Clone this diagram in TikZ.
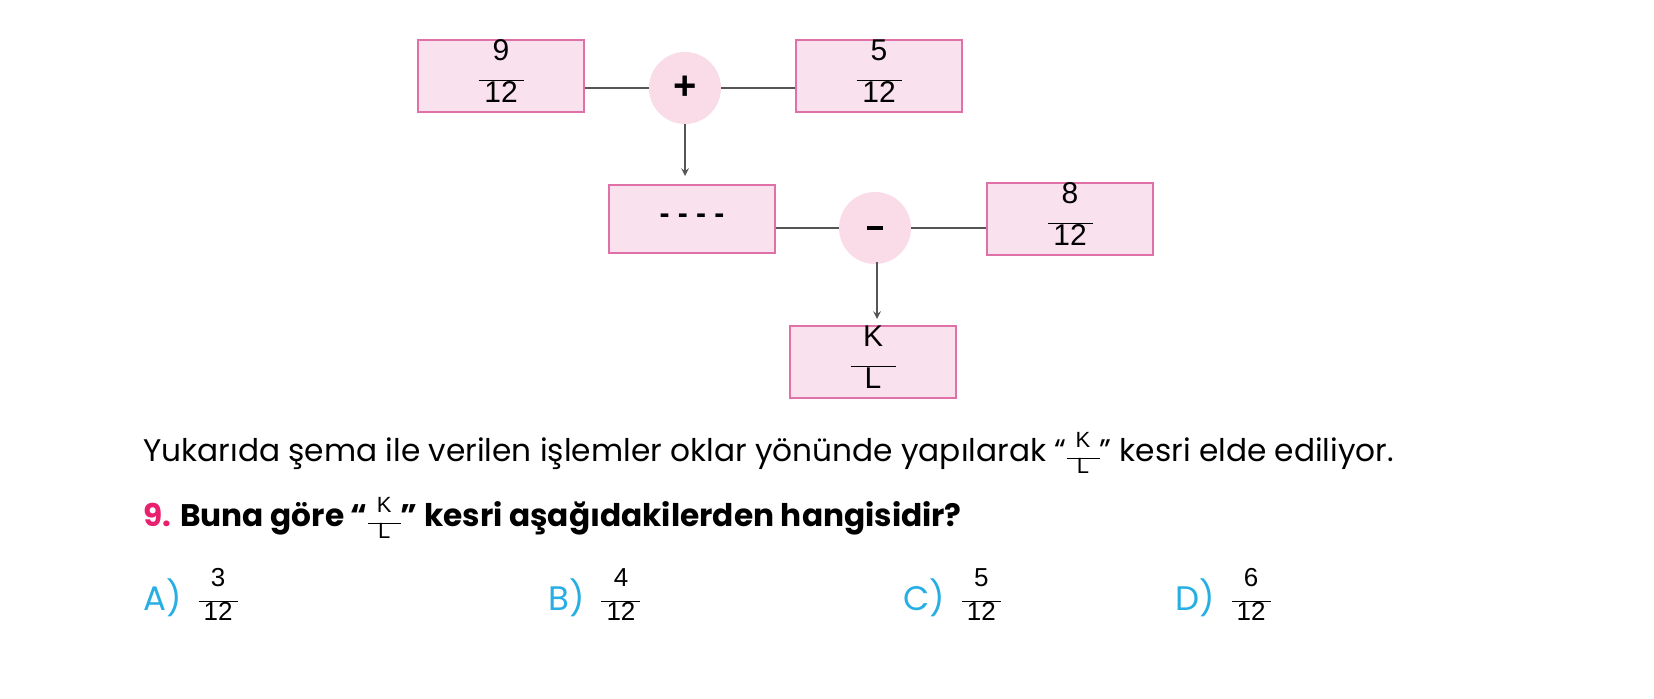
\documentclass[tikz,border=0pt]{standalone}
\usepackage{fontspec}
\setmainfont{Poppins}
\newfontfamily\arialf{Liberation Sans}
\definecolor{boxfill}{HTML}{FAE1EE}
\definecolor{boxline}{HTML}{E070A8}
\definecolor{circfill}{HTML}{F9DCE8}
\definecolor{qpink}{HTML}{E8206E}
\definecolor{optblue}{HTML}{27AEE3}
\definecolor{linegray}{HTML}{555555}
\newcommand{\fr}[2]{$\vcenter{\hbox{\arialf\begin{tabular}{@{}c@{}}#1\\[-5pt]\rule{1.5em}{0.7pt}\\[-4pt]#2\end{tabular}}}$}
\tikzset{
  fbox/.style={draw=boxline,fill=boxfill,line width=0.9pt,minimum width=83pt,minimum height=34pt,inner sep=0pt,font=\arialf\fontsize{15}{15}\selectfont},
  opc/.style={circle,fill=circfill,minimum size=36pt,inner sep=0pt,font=\arialf\bfseries\fontsize{20}{20}\selectfont},
  conn/.style={linegray,line width=0.7pt},
  arr/.style={conn,-stealth},
}
\begin{document}
\begin{tikzpicture}[x=0.5pt,y=-0.5pt]
\useasboundingbox (0,0) rectangle (1654,699);
\node[fbox] (a) at (501,76) {\fr{9}{12}};
\node[opc] (p) at (685,88) {+};
\node[fbox] (b) at (879,76) {\fr{5}{12}};
\node[fbox] (c) at (692,219) {\bfseries - - - -};
\node[opc] (m) at (875,228) {\rule{8pt}{2pt}};
\node[fbox] (d) at (1070,219) {\fr{8}{12}};
\node[fbox] (e) at (873,362) {\fr{K}{L}};
\draw[conn] (a.east |- p) -- (p.west);
\draw[conn] (p.east) -- (b.west |- p);
\draw[conn] (c.east |- m) -- (m.west);
\draw[conn] (m.east) -- (d.west |- m);
\coordinate (c1) at (685,176);
\draw[arr] (p.south) -- (c1);
\coordinate (e1) at (877,319);
\draw[arr] (877,262) -- (e1);
\node[anchor=west,inner sep=0pt,font=\fontsize{15.6}{15.6}\selectfont] (t1) at (143,456) {Yukarıda şema ile verilen işlemler oklar yönünde yapılarak “{\fontsize{11}{11}\selectfont\fr{K}{L}}” kesri elde ediliyor.};
\node[anchor=west,inner sep=0pt,font=\fontsize{15.6}{15.6}\selectfont\bfseries] (t2) at (143,521) {{\color{qpink}9.} Buna göre “{\fontsize{11}{11}\mdseries\fr{K}{L}}” kesri aşağıdakilerden hangisidir?};
\foreach \x/\l/\n in {143/A/3,548/B/4,903/C/5,1175/D/6}{
  \node[anchor=west,inner sep=0pt,font=\fontsize{17}{17}\selectfont,text=optblue] (o\l) at (\x,598) {\l)};
  \node[anchor=west,inner sep=0pt,font=\fontsize{13}{13}\selectfont] (f\l) at ([xshift=8pt]o\l.east) {\fr{\n}{12}};
}
\end{tikzpicture}
\end{document}
